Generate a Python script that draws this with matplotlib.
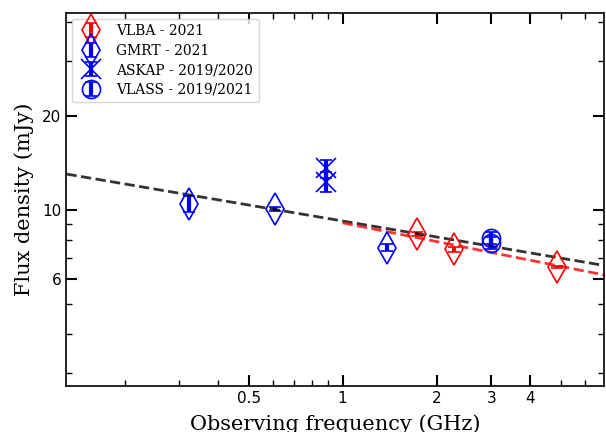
import matplotlib
matplotlib.use('Agg')
import matplotlib.pyplot as plt
from matplotlib.ticker import FixedLocator, FixedFormatter, NullFormatter

# Flux density measurements: frequency (GHz), flux (mJy), error (mJy)
vlba_freq = [1.73, 2.27, 4.87]
vlba_flux = [8.36, 7.48, 6.58]
vlba_err = [0.12, 0.14, 0.06]

gmrt_freq = [0.322, 0.607, 1.385]
gmrt_flux = [10.45, 10.05, 7.57]
gmrt_err = [0.6, 0.15, 0.2]

askap_freq = [0.888, 0.888]
askap_flux = [13.6, 12.3]
askap_err = [0.9, 0.9]

vlass_freq = [3.0, 3.0]
vlass_flux = [8.15, 7.85]
vlass_err = [0.35, 0.35]

# power-law fits, end points
fit_all_freq = [0.1303, 6.91]
fit_all_flux = [13.04, 6.64]
fit_vlba_freq = [1.0, 6.91]
fit_vlba_flux = [9.10, 6.19]

xticks = [0.5, 1, 2, 3, 4]
xticklabels = ['0.5', '1', '2', '3', '4']
yticks = [6, 10, 20]
yticklabels = ['6', '10', '20']

fig = plt.figure(figsize=(6.06, 4.32), dpi=100)
ax = fig.add_axes([0.1097, 0.1065, 0.8878, 0.8635])

eb = dict(mfc='none', mew=1.2, elinewidth=3, capsize=4, capthick=2, ls='none')
ax.errorbar(vlba_freq, vlba_flux, yerr=vlba_err, fmt='d', color='red', ms=16,
            label='VLBA - 2021', **eb)
ax.errorbar(gmrt_freq, gmrt_flux, yerr=gmrt_err, fmt='d', color='blue', ms=16,
            label='GMRT - 2021', **eb)
ax.errorbar(askap_freq, askap_flux, yerr=askap_err, fmt='x', color='blue', ms=14,
            label='ASKAP - 2019/2020', **eb)
ax.errorbar(vlass_freq, vlass_flux, yerr=vlass_err, fmt='o', color='blue', ms=13,
            label='VLASS - 2019/2021', **eb)

ax.plot(fit_all_freq, fit_all_flux, '--', color='k', alpha=0.8, lw=2)
ax.plot(fit_vlba_freq, fit_vlba_flux, '--', color='red', alpha=0.8, lw=2)

ax.set_xscale('log')
ax.set_yscale('log')
ax.set_xlim(0.1303, 6.91)
ax.set_ylim(2.73, 42.8)

ax.xaxis.set_major_locator(FixedLocator(xticks))
ax.xaxis.set_major_formatter(FixedFormatter(xticklabels))
ax.xaxis.set_minor_locator(FixedLocator([0.2, 0.3, 0.4, 0.6, 0.7, 0.8, 0.9, 5, 6]))
ax.xaxis.set_minor_formatter(NullFormatter())

ax.yaxis.set_major_locator(FixedLocator(yticks))
ax.yaxis.set_major_formatter(FixedFormatter(yticklabels))
ax.yaxis.set_minor_locator(FixedLocator([3, 4, 5, 7, 8, 9, 30, 40]))
ax.yaxis.set_minor_formatter(NullFormatter())

ax.tick_params(which='major', direction='in', length=8, width=1.5,
               top=True, right=True, labelsize=11)
ax.tick_params(which='minor', direction='in', length=4, width=1,
               top=True, right=True)
for s in ax.spines.values():
    s.set_linewidth(1.2)

ax.set_xlabel('Observing frequency (GHz)', family='DejaVu Serif', fontsize=15, labelpad=6)
ax.set_ylabel('Flux density (mJy)', family='DejaVu Serif', fontsize=15, labelpad=6)

ax.legend(loc='upper left', prop={'family': 'DejaVu Serif', 'size': 10},
          labelspacing=0.4, borderaxespad=0.4)

fig.savefig('out.png', dpi=100)
